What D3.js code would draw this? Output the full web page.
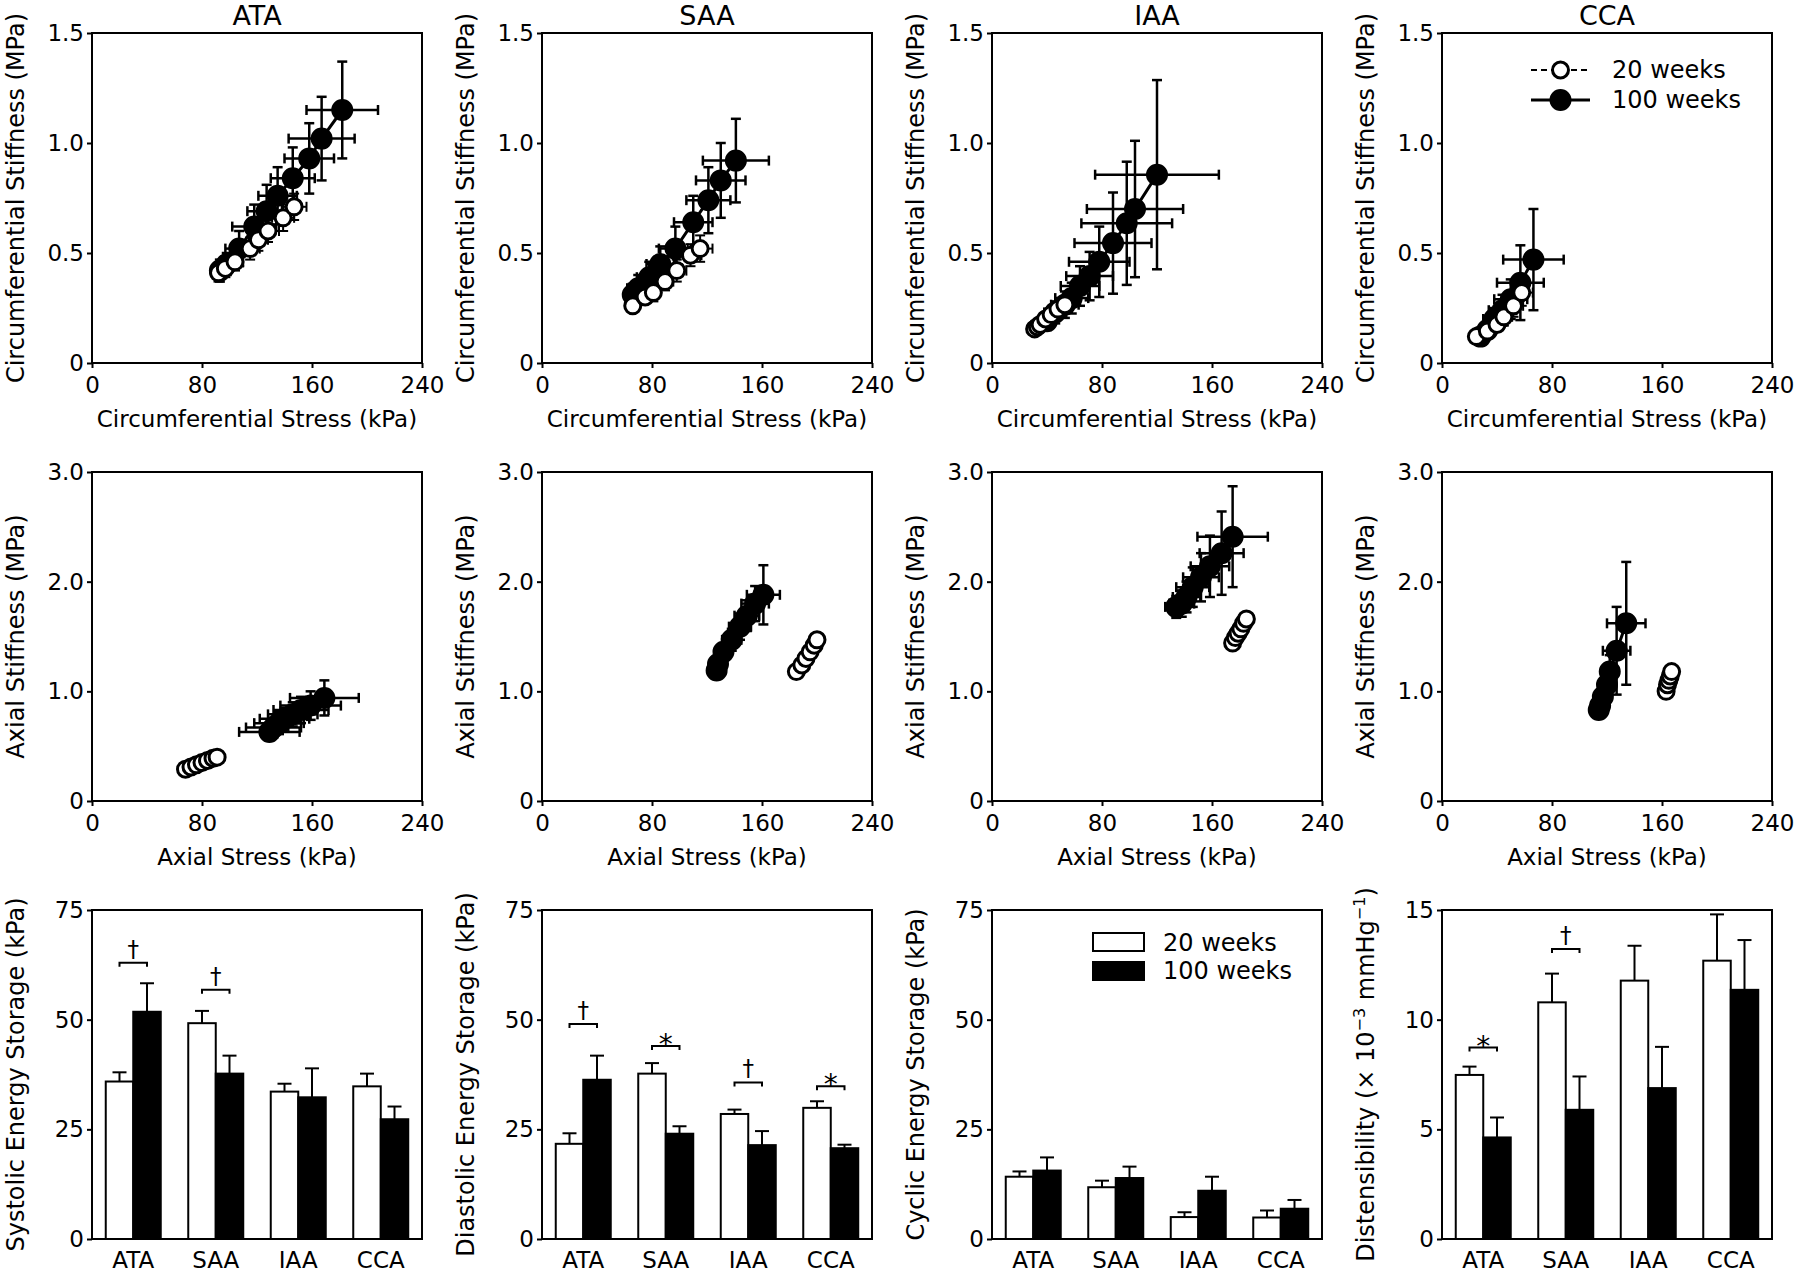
<!DOCTYPE html>
<html><head><meta charset="utf-8">
<script src="https://cdn.jsdelivr.net/npm/d3@7"></script>
<style>
body{margin:0;background:#fff}
svg{display:block}
text{font-family:"DejaVu Sans",sans-serif;fill:#000}
</style>
</head><body>
<svg id="c" width="1800" height="1277"></svg>
<script>
// ---------------- DATA ----------------
const regions = ["ATA", "SAA", "IAA", "CCA"];
const seriesNames = ["20 weeks", "100 weeks"];

// Circumferential: [stress kPa, stiffness MPa, stress SD, stiffness SD]
const circATA20  = [[92,0.41,5,0.04],[97,0.43,5,0.04],[104,0.46,6,0.04],[115,0.52,7,0.05],[121,0.56,7,0.05],[128,0.60,8,0.05],[139,0.66,8,0.06],[147,0.71,9,0.06]];
const circATA100 = [[93,0.42,5,0.05],[98,0.45,6,0.05],[107,0.52,10,0.08],[118,0.62,16,0.10],[127,0.69,14,0.12],[135,0.76,14,0.13],[146,0.84,16,0.14],[158,0.93,18,0.16],[167,1.02,24,0.19],[182,1.15,26,0.22]];
const circSAA20  = [[66,0.26,4,0.03],[75,0.30,5,0.03],[81,0.32,5,0.04],[89.5,0.37,6,0.04],[98,0.42,7,0.05],[108,0.49,8,0.05],[115,0.52,9,0.06]];
const circSAA100 = [[66,0.31,6,0.05],[70,0.34,8,0.06],[78,0.39,9,0.07],[86,0.45,10,0.08],[97,0.52,12,0.10],[110,0.64,14,0.12],[121,0.74,16,0.15],[130,0.83,18,0.17],[141,0.92,24,0.19]];
const circIAA20  = [[31,0.155,3,0.02],[33,0.165,3,0.02],[35,0.175,4,0.02],[39,0.20,4,0.03],[43,0.22,5,0.03],[48,0.245,5,0.03],[53,0.265,6,0.04]];
const circIAA100 = [[40,0.19,6,0.04],[46,0.23,8,0.05],[53,0.265,10,0.06],[58,0.295,12,0.07],[64,0.35,14,0.09],[71,0.395,17,0.11],[78,0.46,22,0.16],[88,0.545,28,0.23],[98,0.635,33,0.28],[104,0.70,35,0.31],[120,0.856,45,0.43]];
const circCCA20  = [[25,0.12,3,0.02],[33,0.145,4,0.02],[40,0.175,5,0.03],[45,0.21,6,0.04],[52,0.26,7,0.05],[58,0.32,8,0.06]];
const circCCA100 = [[28,0.12,4,0.03],[33,0.15,6,0.04],[38,0.20,8,0.05],[44,0.24,10,0.07],[50,0.29,12,0.09],[57,0.365,17,0.17],[66.5,0.47,22,0.23]];

// Axial: [stress kPa, stiffness MPa, stress SD, stiffness SD]
const axATA20  = [[68,0.29,2,0.02],[72,0.31,2,0.02],[76,0.33,2,0.02],[80,0.35,2,0.02],[84,0.37,2,0.02],[88,0.39,2,0.03],[91,0.40,2,0.03]];
const axATA100 = [[129,0.63,22,0.08],[132,0.67,20,0.09],[136,0.71,18,0.10],[140,0.75,18,0.10],[146,0.79,18,0.11],[152,0.83,20,0.12],[159,0.87,22,0.13],[169,0.94,25,0.16]];
const axSAA20  = [[185,1.18,2,0.03],[189,1.24,2,0.03],[192,1.30,2,0.04],[195,1.36,2,0.04],[198,1.42,2,0.05],[200,1.47,2,0.05]];
const axSAA100 = [[127,1.19,4,0.06],[128,1.25,5,0.07],[132,1.36,6,0.08],[138,1.47,7,0.10],[144,1.59,8,0.12],[149,1.69,9,0.14],[155,1.80,10,0.16],[161,1.88,12,0.27]];
const axIAA20  = [[175,1.44,2,0.03],[177,1.49,2,0.03],[179,1.53,2,0.04],[181,1.57,2,0.04],[183,1.62,2,0.05],[185,1.66,2,0.05]];
const axIAA100 = [[134,1.77,8,0.10],[138,1.80,9,0.12],[141.5,1.86,10,0.14],[146,1.95,12,0.18],[152,2.04,13,0.22],[158.5,2.14,14,0.28],[167,2.26,16,0.38],[175,2.41,25.6,0.46]];
const axCCA20  = [[163,1.00,2,0.03],[164,1.06,2,0.03],[165,1.10,2,0.04],[166,1.14,2,0.04],[167,1.18,2,0.04]];
const axCCA100 = [[114,0.83,3,0.04],[115,0.87,3,0.05],[117,0.95,4,0.07],[120,1.06,5,0.10],[122,1.18,6,0.15],[127,1.37,10,0.40],[134,1.62,14,0.56]];

// Bar charts (per region ATA, SAA, IAA, CCA)
const systolic20 = [35.9,49.2,33.6,34.8],  systolic20Err = [2.1,2.8,1.8,2.9];
const systolic100 = [51.8,37.7,32.3,27.3], systolic100Err = [6.5,4.1,6.6,2.9];
const diastolic20 = [21.7,37.7,28.5,29.9], diastolic20Err = [2.4,2.4,1.0,1.5];
const diastolic100 = [36.3,24.0,21.4,20.7],diastolic100Err = [5.5,1.7,3.2,0.8];
const cyclic20 = [14.2,11.8,5.0,4.9],      cyclic20Err = [1.2,1.5,1.1,1.6];
const cyclic100 = [15.6,13.9,11.0,6.9],    cyclic100Err = [3.0,2.6,3.2,2.0];
const dist20 = [7.48,10.79,11.78,12.69],   dist20Err = [0.38,1.31,1.59,2.11];
const dist100 = [4.63,5.89,6.88,11.36],    dist100Err = [0.91,1.52,1.88,2.27];

// Significance markers: [region index, bracket height, symbol]
const systolicSig = [[0,63,"†"],[1,56.8,"†"]];
const diastolicSig = [[0,49,"†"],[1,44,"*"],[2,35.7,"†"],[3,34.8,"*"]];
const cyclicSig = [];
const distSig = [[0,8.73,"*"],[1,13.22,"†"]];

// Tick values
const stressTicks = [0,80,160,240];
const circStiffTicks = [0,0.5,1.0,1.5];
const axStiffTicks = [0,1.0,2.0,3.0];
const energyTicks = [0,25,50,75];
const distTicks = [0,5,10,15];

// ---------------- LAYOUT ----------------
const svg = d3.select("#c");
const FS = 23;
const colX = [92, 542, 992, 1442];
const W = 330;
const rowY = [33, 472, 910];
const H = [330, 329, 329];

function styleAxis(sel){
  sel.select(".domain").remove();
  sel.selectAll(".tick line").attr("stroke","#000").attr("stroke-width",2);
  sel.selectAll(".tick text").attr("font-size",FS).attr("font-family","DejaVu Sans").attr("fill","#000");
}
function frame(g,h){
  g.append("rect").attr("x",0).attr("y",0).attr("width",W).attr("height",h)
    .attr("fill","none").attr("stroke","#000").attr("stroke-width",2);
}
function yLabel(g,h,txt){
  const t = g.append("text").attr("text-anchor","middle").attr("font-size",24)
    .attr("transform",`translate(${24-92},${h/2}) rotate(-90)`);
  if (typeof txt === "string") t.text(txt);
  else txt(t);
}
function fmtY(d){ return d===0 ? "0" : d3.format(".1f")(d); }

function drawSeries(g,x,y,data,filled){
  const capH = 5;
  const lw = filled ? 2.5 : 2;
  const eb = g.append("g").attr("stroke","#000").attr("stroke-width",lw).attr("fill","none");
  data.forEach(d=>{
    const cx=x(d[0]), cy=y(d[1]);
    const x0=x(d[0]-d[2]), x1=x(d[0]+d[2]);
    const y0=y(d[1]-d[3]), y1=y(d[1]+d[3]);
    eb.append("line").attr("x1",x0).attr("x2",x1).attr("y1",cy).attr("y2",cy);
    eb.append("line").attr("x1",x0).attr("x2",x0).attr("y1",cy-capH).attr("y2",cy+capH);
    eb.append("line").attr("x1",x1).attr("x2",x1).attr("y1",cy-capH).attr("y2",cy+capH);
    eb.append("line").attr("x1",cx).attr("x2",cx).attr("y1",y0).attr("y2",y1);
    eb.append("line").attr("x1",cx-capH).attr("x2",cx+capH).attr("y1",y0).attr("y2",y0);
    eb.append("line").attr("x1",cx-capH).attr("x2",cx+capH).attr("y1",y1).attr("y2",y1);
  });
  const line = d3.line().x(d=>x(d[0])).y(d=>y(d[1]));
  g.append("path").datum(data).attr("d",line).attr("fill","none").attr("stroke","#000")
    .attr("stroke-width",filled?3:2).attr("stroke-dasharray",filled?null:"6,4");
  g.append("g").selectAll("circle").data(data).join("circle")
    .attr("cx",d=>x(d[0])).attr("cy",d=>y(d[1]))
    .attr("r",filled?9.5:8)
    .attr("fill",filled?"#000":"#fff").attr("stroke","#000").attr("stroke-width",3);
}

function scatterPanel(col,row,s20,s100,yMax,yTicks,ylab,xlab){
  const h=H[row];
  const g=svg.append("g").attr("transform",`translate(${colX[col]},${rowY[row]})`);
  const x=d3.scaleLinear().domain([0,240]).range([0,W]);
  const y=d3.scaleLinear().domain([0,yMax]).range([h,0]);
  g.append("g").attr("transform",`translate(0,${h})`)
    .call(d3.axisBottom(x).tickValues(stressTicks).tickFormat(d3.format("d")).tickSize(5).tickPadding(9))
    .call(styleAxis);
  g.append("g")
    .call(d3.axisLeft(y).tickValues(yTicks).tickFormat(fmtY).tickSize(5).tickPadding(3))
    .call(styleAxis);
  drawSeries(g,x,y,s100,true);
  drawSeries(g,x,y,s20,false);
  frame(g,h);
  yLabel(g,h,ylab);
  g.append("text").attr("x",W/2).attr("y",h+64).attr("text-anchor","middle").attr("font-size",FS).text(xlab);
  return g;
}

function barPanel(col,v20,e20,v100,e100,yMax,yTicks,sig,ylab){
  const h=H[2];
  const g=svg.append("g").attr("transform",`translate(${colX[col]},${rowY[2]})`);
  const x=d3.scaleBand().domain(regions).range([0,W]).padding(0);
  const bw=x.bandwidth()/3;
  const y=d3.scaleLinear().domain([0,yMax]).range([h,0]);
  g.append("g").attr("transform",`translate(0,${h})`)
    .call(d3.axisBottom(x).tickSize(0).tickPadding(13))
    .call(styleAxis);
  g.append("g")
    .call(d3.axisLeft(y).tickValues(yTicks).tickFormat(d3.format("d")).tickSize(5).tickPadding(3))
    .call(styleAxis);
  const groups=[[v20,e20,"#fff",-1],[v100,e100,"#000",0]];
  groups.forEach(([vals,errs,fill,off])=>{
    regions.forEach((r,i)=>{
      const cx=x(r)+x.bandwidth()/2;
      const bx=cx+off*bw;
      const mid=bx+bw/2;
      g.append("line").attr("x1",mid).attr("x2",mid).attr("y1",y(vals[i])).attr("y2",y(vals[i]+errs[i]))
        .attr("stroke","#000").attr("stroke-width",2);
      g.append("line").attr("x1",mid-7).attr("x2",mid+7).attr("y1",y(vals[i]+errs[i])).attr("y2",y(vals[i]+errs[i]))
        .attr("stroke","#000").attr("stroke-width",2);
      g.append("rect").attr("x",bx).attr("y",y(vals[i])).attr("width",bw).attr("height",h-y(vals[i]))
        .attr("fill",fill).attr("stroke","#000").attr("stroke-width",2);
    });
  });
  sig.forEach(([i,v,sym])=>{
    const cx=x(regions[i])+x.bandwidth()/2;
    const a=cx-bw/2, b=cx+bw/2, yy=y(v);
    g.append("path").attr("d",`M${a},${yy+4}V${yy}H${b}V${yy+4}`).attr("fill","none")
      .attr("stroke","#000").attr("stroke-width",2);
    g.append("text").attr("x",cx).attr("y",yy+(sym==="*"?8:-6)).attr("text-anchor","middle")
      .attr("font-size",sym==="*"?28:FS).text(sym);
  });
  frame(g,h);
  yLabel(g,h,ylab);
  return g;
}

// ---------------- ROW 1 ----------------
const circData=[[circATA20,circATA100],[circSAA20,circSAA100],[circIAA20,circIAA100],[circCCA20,circCCA100]];
circData.forEach((d,i)=>{
  const g=scatterPanel(i,0,d[0],d[1],1.5,circStiffTicks,"Circumferential Stiffness (MPa)","Circumferential Stress (kPa)");
  g.append("text").attr("x",W/2).attr("y",-8).attr("text-anchor","middle").attr("font-size",27).text(regions[i]);
});
// legend (CCA panel)
{
  const g=svg.append("g").attr("transform",`translate(${colX[3]},${rowY[0]})`);
  const rows=[[37,false],[67,true]];
  rows.forEach(([ly,filled],k)=>{
    g.append("line").attr("x1",89).attr("x2",148).attr("y1",ly).attr("y2",ly)
      .attr("stroke","#000").attr("stroke-width",filled?3:2).attr("stroke-dasharray",filled?null:"6,4");
    g.append("circle").attr("cx",118.5).attr("cy",ly).attr("r",filled?9.5:8)
      .attr("fill",filled?"#000":"#fff").attr("stroke","#000").attr("stroke-width",3);
    g.append("text").attr("x",170).attr("y",ly+8).attr("font-size",24).text(seriesNames[k]);
  });
}

// ---------------- ROW 2 ----------------
const axData=[[axATA20,axATA100],[axSAA20,axSAA100],[axIAA20,axIAA100],[axCCA20,axCCA100]];
axData.forEach((d,i)=>{
  scatterPanel(i,1,d[0],d[1],3.0,axStiffTicks,"Axial Stiffness (MPa)","Axial Stress (kPa)");
});

// ---------------- ROW 3 ----------------
barPanel(0,systolic20,systolic20Err,systolic100,systolic100Err,75,energyTicks,systolicSig,"Systolic Energy Storage (kPa)");
barPanel(1,diastolic20,diastolic20Err,diastolic100,diastolic100Err,75,energyTicks,diastolicSig,"Diastolic Energy Storage (kPa)");
const gCyc=barPanel(2,cyclic20,cyclic20Err,cyclic100,cyclic100Err,75,energyTicks,cyclicSig,"Cyclic Energy Storage (kPa)");
barPanel(3,dist20,dist20Err,dist100,dist100Err,15,distTicks,distSig,t=>{
  t.append("tspan").text("Distensibility (× 10");
  t.append("tspan").attr("font-size",16).attr("dy",-9).text("−3");
  t.append("tspan").attr("dy",9).text(" mmHg");
  t.append("tspan").attr("font-size",16).attr("dy",-9).text("−1");
  t.append("tspan").attr("dy",9).text(")");
});
// bar legend
{
  const fills=["#fff","#000"];
  [[23,41],[52,69]].forEach(([ry,ty],k)=>{
    gCyc.append("rect").attr("x",101).attr("y",ry).attr("width",51).attr("height",18)
      .attr("fill",fills[k]).attr("stroke","#000").attr("stroke-width",2);
    gCyc.append("text").attr("x",171).attr("y",ty).attr("font-size",24).text(seriesNames[k]);
  });
}
</script>
</body></html>
